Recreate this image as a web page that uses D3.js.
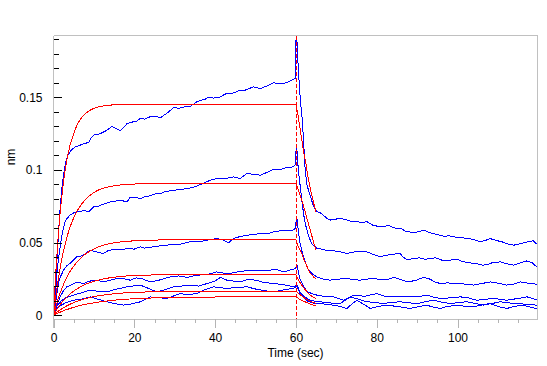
<!DOCTYPE html>
<html><head><meta charset="utf-8">
<script src="https://cdn.jsdelivr.net/npm/d3@7"></script>
<style>
html,body{margin:0;padding:0;background:#fff;}
svg text{font-family:"Liberation Sans",Arial,sans-serif;font-size:12px;fill:#000;}
</style></head>
<body>
<svg id="chart" width="547" height="366"></svg>
<script>
// ---------- data ----------
const xTicksMajor = [0, 20, 40, 60, 80, 100];
const xTicksMinor = [5,10,15,25,30,35,45,50,55,65,70,75,85,90,95,105,110,115];
const yTicksMajor = [0, 0.05, 0.1, 0.15];
const yTickLabels = ["0", "0.05", "0.1", "0.15"];
const yTicksMinor = [0.01,0.02,0.03,0.04,0.06,0.07,0.08,0.09,0.11,0.12,0.13,0.14,0.16,0.17,0.18,0.19];
const dissociationStart = 60;

// measured sensor traces [time (s), response (nm)]
const sensor1 = [[0,0],[0.5,0.02],[1,0.045],[1.5,0.068],[2,0.086],[2.5,0.097],[3,0.105],[3.5,0.110],[4.5,0.114],[5.5,0.116],[6.5,0.117],[7.5,0.118],[8.7,0.119],[9.3,0.122],[9.9,0.124],[11,0.1245],[11.6,0.125],[13,0.127],[14.5,0.130],[15.5,0.1285],[16.5,0.127],[17.3,0.129],[18.2,0.132],[19.5,0.133],[20.5,0.1335],[21.5,0.1355],[22.5,0.135],[23.9,0.1366],[25,0.137],[26.5,0.136],[27.5,0.138],[28.5,0.140],[29.7,0.143],[31,0.1425],[32.5,0.1435],[34,0.144],[35.5,0.147],[36.5,0.148],[37.5,0.1485],[38.2,0.150],[39.5,0.1495],[41,0.150],[42.9,0.1528],[44,0.1525],[45.5,0.154],[46.2,0.155],[47.5,0.155],[49.5,0.1573],[51.2,0.156],[52.5,0.1575],[54.5,0.160],[55.5,0.1595],[57,0.1596],[58,0.1605],[59.8,0.163],
  [60.1,0.198],[60.6,0.169],[61.1,0.148],[61.5,0.137],[61.9,0.120],[62.3,0.100],[62.7,0.090],[63.5,0.0826],[64.4,0.0746],[65.2,0.0715],[66.4,0.070],[67.5,0.067],[68.5,0.0655],[69.5,0.066],[71,0.0666],[72.2,0.066],[73.5,0.0648],[75.1,0.0643],[76.5,0.0638],[77.5,0.0645],[79,0.062],[80.9,0.0608],[82,0.0612],[83,0.0618],[84,0.0605],[85,0.0597],[86,0.060],[87,0.058],[89.1,0.0567],[90.5,0.0575],[91.6,0.0586],[93,0.057],[94.5,0.0558],[96.5,0.0544],[98,0.0546],[99.5,0.0538],[101,0.0535],[102.3,0.0528],[104,0.0522],[105.6,0.0505],[107,0.0515],[108,0.0528],[109.5,0.0515],[111,0.0505],[112.5,0.049],[113.9,0.0482],[115,0.0488],[116.5,0.050],[118,0.0508],[118.8,0.0512],[119.6,0.049]];
const sensor2 = [[0,0],[0.5,0.015],[0.8,0.028],[1.2,0.038],[1.7,0.048],[2.2,0.057],[2.9,0.065],[3.5,0.067],[4.1,0.0689],[5,0.0705],[5.8,0.0711],[6.6,0.0711],[7.4,0.0723],[8.7,0.0711],[9.9,0.0746],[11,0.075],[12.5,0.0765],[14,0.078],[15.2,0.0785],[16.5,0.0792],[18.2,0.078],[19,0.0812],[20.3,0.081],[21.5,0.0803],[22.5,0.0815],[23.5,0.082],[25.6,0.0838],[26.5,0.0835],[27.5,0.085],[29.7,0.086],[31.5,0.0865],[33,0.0872],[34.5,0.088],[35.5,0.089],[37.1,0.0907],[38.8,0.093],[40.4,0.0941],[42.5,0.094],[44.6,0.0952],[46.2,0.094],[47.9,0.0976],[49.5,0.097],[51.2,0.0964],[53,0.0985],[54.5,0.1005],[56,0.100],[57.5,0.1015],[59,0.102],[59.8,0.1033],
  [60.15,0.118],[60.6,0.100],[61.1,0.088],[61.5,0.078],[62,0.068],[62.5,0.061],[63,0.056],[63.5,0.052],[64,0.049],[64.8,0.047],[65.2,0.0459],[66.5,0.0455],[67.5,0.0445],[68.5,0.0448],[69.5,0.0442],[70.5,0.044],[71.5,0.0432],[72.6,0.0425],[74,0.0432],[75,0.044],[76.5,0.0438],[77.6,0.0436],[79,0.042],[80.9,0.0402],[82,0.041],[83.5,0.0418],[85.8,0.0425],[86.5,0.040],[87.5,0.0384],[89,0.0388],[90.5,0.0395],[92,0.0385],[93.2,0.039],[94.5,0.0395],[96,0.038],[97.5,0.0375],[99,0.0384],[100,0.0385],[101,0.037],[103.1,0.036],[104.5,0.0355],[106.4,0.0344],[107.5,0.035],[108.5,0.036],[110.6,0.0367],[112,0.0355],[113.9,0.0344],[115.5,0.036],[117.2,0.0374],[118.5,0.036],[119.6,0.0333]];
const sensor3 = [[0,0],[0.4,0.0057],[0.8,0.014],[1.2,0.0218],[1.8,0.027],[2.5,0.031],[3.3,0.034],[4.1,0.0356],[5,0.038],[5.8,0.0402],[6.5,0.0405],[7.4,0.0413],[8.2,0.043],[9.1,0.0448],[10,0.044],[10.7,0.0436],[11.5,0.043],[12.4,0.0425],[13.2,0.044],[14,0.0448],[15.5,0.0452],[17,0.045],[18.2,0.0459],[20,0.0455],[21.5,0.047],[22.5,0.0462],[23.5,0.0465],[25.6,0.0475],[27.5,0.048],[29.7,0.0489],[31.5,0.049],[33.8,0.0505],[36,0.0505],[38,0.0517],[39.2,0.052],[40.4,0.0528],[41.5,0.0522],[42.5,0.051],[43.3,0.0498],[44.6,0.0528],[46,0.054],[47.9,0.0551],[49.5,0.0555],[51.2,0.0563],[53,0.056],[54.5,0.0574],[56,0.058],[57.8,0.0585],[59,0.058],[59.8,0.0597],
  [60.2,0.068],[60.6,0.058],[61,0.050],[61.5,0.044],[62,0.039],[62.5,0.035],[63,0.032],[63.5,0.030],[64.2,0.028],[65.2,0.0264],[66.5,0.025],[68.5,0.0241],[70.5,0.0248],[72.6,0.0253],[74,0.0245],[75.9,0.0241],[77.5,0.0248],[79.2,0.0253],[81,0.0245],[82.5,0.0243],[84.2,0.026],[85.5,0.025],[87.5,0.0229],[89.5,0.0238],[91.6,0.026],[93,0.025],[94.5,0.0228],[95.7,0.0218],[97.5,0.0222],[99.8,0.0218],[101.5,0.0215],[104,0.0207],[105.5,0.0215],[108.1,0.0229],[110,0.022],[112.2,0.0207],[114,0.0215],[115.5,0.0229],[117.5,0.022],[119.6,0.0213]];
const sensor4 = [[0,0],[0.4,0.0034],[1,0.008],[1.66,0.0126],[2.5,0.017],[3.3,0.0195],[4.5,0.021],[5.8,0.0229],[7.4,0.0218],[8.5,0.023],[9.9,0.0241],[11,0.024],[12.4,0.0229],[14,0.024],[15.7,0.0253],[17.5,0.025],[19,0.0241],[20.5,0.0257],[22,0.025],[24,0.0229],[26,0.024],[28.9,0.0264],[31,0.027],[33,0.026],[35.5,0.0275],[38,0.028],[40.4,0.0298],[42,0.029],[43.7,0.0287],[46,0.030],[48.7,0.031],[51,0.0305],[53.6,0.031],[55,0.0315],[57,0.0298],[58.5,0.031],[59.8,0.0321],
  [60.3,0.034],[61,0.025],[62,0.019],[63,0.016],[64,0.0148],[65.2,0.0138],[67,0.013],[69.3,0.0126],[71.8,0.0103],[74.3,0.0138],[77,0.013],[80,0.0149],[82,0.013],[84.2,0.0126],[86,0.013],[88.3,0.0126],[90,0.0125],[92.4,0.0138],[94.5,0.012],[96.5,0.0115],[98.5,0.012],[100.7,0.0126],[102.5,0.012],[104.8,0.0103],[107,0.011],[108.9,0.0115],[110.5,0.011],[112.2,0.0103],[115,0.0115],[117.2,0.0126],[119.6,0.0105]];
const sensor5 = [[0,0],[0.5,0.004],[1,0.007],[2,0.010],[3,0.012],[5,0.0138],[7,0.0155],[9.1,0.0172],[11,0.0165],[13.2,0.016],[15,0.0175],[18.2,0.0195],[21.5,0.0207],[23,0.019],[25.6,0.016],[27.5,0.0175],[29.7,0.0195],[31.5,0.020],[33.8,0.0207],[36,0.020],[38,0.0218],[40,0.0235],[41.3,0.026],[43,0.024],[46.2,0.0229],[48,0.0245],[50.3,0.0241],[52,0.0225],[54.5,0.0218],[57,0.021],[59.5,0.0195],
  [60.2,0.021],[61,0.016],[62,0.013],[63,0.011],[64,0.0100],[65,0.0095],[66,0.0092],[68,0.0085],[71,0.008],[73.4,0.0126],[75.5,0.011],[77.6,0.0092],[79.5,0.0088],[81.7,0.008],[83.5,0.0088],[85.8,0.0092],[88,0.0085],[90,0.008],[92,0.0092],[94,0.0103],[96,0.009],[98.2,0.008],[100.5,0.0088],[102.3,0.0092],[104.5,0.008],[106.4,0.0069],[108.5,0.008],[110.6,0.0092],[112.5,0.0085],[114.7,0.008],[117,0.0075],[119.6,0.0069]];
const sensor6 = [[0,0],[0.5,0.003],[1,0.005],[2,0.007],[3,0.0085],[5,0.0103],[7,0.011],[9.1,0.0126],[11,0.011],[13.2,0.0092],[15,0.008],[17.3,0.0069],[19,0.0075],[21.5,0.0092],[23.9,0.0126],[26,0.012],[28,0.0115],[31.4,0.0149],[33,0.014],[35.5,0.0149],[37,0.017],[39.6,0.0195],[41,0.019],[42.9,0.0184],[45,0.019],[47.9,0.0195],[50,0.018],[52,0.017],[54.5,0.016],[57,0.0175],[59.4,0.0184],
  [60.2,0.020],[61,0.015],[62,0.012],[63,0.0095],[64,0.0085],[65,0.008],[66,0.008],[67.5,0.0075],[69.3,0.0069],[71,0.006],[72.6,0.0046],[74,0.008],[75.1,0.0103],[76.5,0.008],[78.4,0.0046],[80.5,0.006],[82.5,0.0069],[85,0.006],[88.3,0.0046],[90.5,0.006],[92.4,0.0069],[94,0.0055],[95.7,0.0046],[97.5,0.006],[99.8,0.0069],[102,0.006],[104,0.0057],[106,0.007],[108.1,0.008],[110,0.006],[112.2,0.0046],[114,0.006],[116.3,0.0069],[118,0.0055],[119.6,0.0046]];

// global fit curves: association phase
const assocTimes = [0,0.5,1,1.5,2,3,4,5,6,8,10,13,16,20,25,30,40,60];
const assocFit1 = [0,0.026,0.048,0.066,0.080,0.102,0.116,0.125,0.132,0.139,0.1425,0.1443,0.1450,0.1452,0.1453,0.1453,0.1453,0.1453];
const assocFit2 = [0,0.0115,0.0215,0.0302,0.0378,0.0503,0.0598,0.0670,0.0725,0.0800,0.0845,0.0880,0.0895,0.0903,0.0906,0.0907,0.0907,0.0907];
const assocFit3 = [0,0.0051,0.0098,0.0142,0.0179,0.0243,0.0296,0.0337,0.0371,0.0423,0.0456,0.0487,0.0502,0.0512,0.0517,0.0519,0.0520,0.0520];
const assocFit4 = [0,0.0024,0.0046,0.0067,0.0085,0.0117,0.0143,0.0166,0.0184,0.0213,0.0233,0.0253,0.0265,0.0273,0.0277,0.0279,0.0280,0.0280];
const assocFit5 = [0,0.0012,0.0023,0.0033,0.0043,0.0060,0.0074,0.0087,0.0097,0.0115,0.0128,0.0141,0.0150,0.0157,0.0161,0.0163,0.0165,0.0165];
const assocFit6 = [0,0.0007,0.0013,0.0019,0.0025,0.0036,0.0045,0.0054,0.0062,0.0075,0.0085,0.0097,0.0106,0.0113,0.0119,0.0122,0.0125,0.0126];
// global fit curves: dissociation phase
const dissocTimes = [60,60.5,61,61.5,62,62.5,63,63.5,64,64.5,65];
const dissocFit1 = [0.1453,0.138,0.129,0.120,0.111,0.104,0.095,0.088,0.082,0.076,0.071];
const dissocFit2 = [0.0907,0.087,0.083,0.079,0.074,0.069,0.064,0.059,0.054,0.049,0.045];
const dissocFit3 = [0.052,0.048,0.045,0.042,0.038,0.035,0.032,0.029,0.0275,0.026,0.025];
const dissocFit4 = [0.028,0.025,0.0225,0.0205,0.0185,0.017,0.0152,0.014,0.013,0.0122,0.0115];
const dissocFit5 = [0.0165,0.0153,0.0142,0.0131,0.0121,0.0112,0.0104,0.0097,0.009,0.0085,0.008];
const dissocFit6 = [0.0126,0.0117,0.0109,0.0102,0.0095,0.0089,0.0083,0.0077,0.0072,0.0067,0.0062];

// ---------- drawing ----------
const L = 53.5, R = 537.5, T = 35.5, B = 318.5;
const svg = d3.select("#chart");
const x = d3.scaleLinear().domain([0, 119.8]).range([L, R]);
const y = d3.scaleLinear().domain([-0.0023, 0.1926]).range([B, T]);

svg.append("defs").append("clipPath").attr("id","clip")
  .append("rect").attr("x", L).attr("y", T).attr("width", R - L).attr("height", B - T);

const plot = svg.append("g").attr("clip-path","url(#clip)");
const line = d3.line().x(d => x(d[0])).y(d => y(d[1]));
const smooth = d3.line().x(d => x(d[0])).y(d => y(d[1])).curve(d3.curveMonotoneX);

[sensor1, sensor2, sensor3, sensor4, sensor5, sensor6].forEach(s => {
  plot.append("path").attr("d", line(s)).attr("fill","none")
    .attr("stroke","#0000ff").attr("stroke-width",1).attr("shape-rendering","crispEdges");
});

const assocFits = [assocFit1, assocFit2, assocFit3, assocFit4, assocFit5, assocFit6];
const dissocFits = [dissocFit1, dissocFit2, dissocFit3, dissocFit4, dissocFit5, dissocFit6];
assocFits.forEach(f => {
  plot.append("path").attr("d", smooth(assocTimes.map((t,i) => [t, f[i]]))).attr("fill","none")
    .attr("stroke","#ff0000").attr("stroke-width",1).attr("shape-rendering","crispEdges");
});
dissocFits.forEach(f => {
  plot.append("path").attr("d", smooth(dissocTimes.map((t,i) => [t, f[i]]))).attr("fill","none")
    .attr("stroke","#ff0000").attr("stroke-width",1).attr("shape-rendering","crispEdges");
});

// dissociation start marker
svg.append("line").attr("x1", Math.round(x(dissociationStart)) + 0.5).attr("x2", Math.round(x(dissociationStart)) + 0.5)
  .attr("y1", T).attr("y2", B).attr("stroke","#ff0000").attr("stroke-dasharray","4,2")
  .attr("shape-rendering","crispEdges");

// frame (top and right)
svg.append("path").attr("d", `M${L},${T}H${R}V${B}`).attr("fill","none")
  .attr("stroke","#c0c0c0").attr("shape-rendering","crispEdges");

// x axis
const gx = svg.append("g").attr("transform", `translate(0,${B})`);
gx.call(d3.axisBottom(x).tickValues(xTicksMajor).tickSize(9).tickPadding(6).tickSizeOuter(0));
const gxm = svg.append("g").attr("transform", `translate(0,${B})`);
gxm.call(d3.axisBottom(x).tickValues(xTicksMinor).tickSize(4).tickFormat(""));
gxm.select(".domain").remove();
[gx, gxm].forEach(g => {
  g.selectAll("line").attr("stroke","#b4b4b4").attr("shape-rendering","crispEdges");
  g.selectAll(".domain").attr("stroke","#c0c0c0").attr("shape-rendering","crispEdges");
  g.selectAll("text").attr("font-family",null).attr("font-size",null).attr("fill","#000");
});

// y axis (ticks pointing inward)
const gy = svg.append("g").attr("transform", `translate(${L},0)`);
gy.call(d3.axisLeft(y).tickValues(yTicksMajor).tickSize(-8).tickPadding(11).tickSizeOuter(0)
  .tickFormat((d,i) => yTickLabels[i]));
const gym = svg.append("g").attr("transform", `translate(${L},0)`);
gym.call(d3.axisLeft(y).tickValues(yTicksMinor).tickSize(-5).tickFormat(""));
gym.select(".domain").remove();
[gy, gym].forEach(g => {
  g.selectAll("line").attr("stroke","#000").attr("shape-rendering","crispEdges");
  g.selectAll(".domain").attr("stroke","#c0c0c0").attr("shape-rendering","crispEdges");
  g.selectAll("text").attr("font-family",null).attr("font-size",null).attr("fill","#000");
});
gy.select(".domain").attr("d", `M0,${T}V${B + 9}`);

// axis titles
svg.append("text").attr("x", (L + R) / 2).attr("y", 357).attr("text-anchor","middle").text("Time (sec)");
svg.append("text").attr("transform","translate(15,157) rotate(-90)").attr("text-anchor","middle").text("nm");
</script>
</body></html>
